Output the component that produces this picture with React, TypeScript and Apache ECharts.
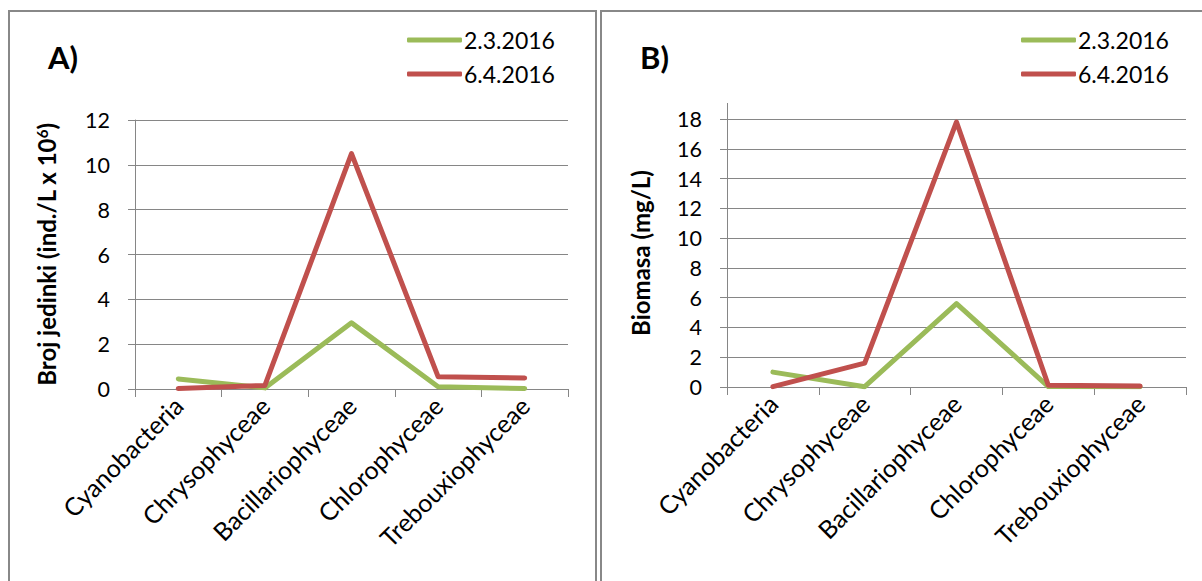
import React, { useEffect, useRef } from "react";
import * as echarts from "echarts";

const categories = ["Cyanobacteria", "Chrysophyceae", "Bacillariophyceae", "Chlorophyceae", "Trebouxiophyceae"];
const seriesNames = ["2.3.2016", "6.4.2016"];
const countMar = [0.45, 0.05, 2.95, 0.1, 0.02];
const countApr = [0.02, 0.16, 10.5, 0.55, 0.49];
const biomassMar = [1.0, 0.02, 5.6, 0.03, 0.02];
const biomassApr = [0.02, 1.6, 17.8, 0.12, 0.06];
const countTicks = { min: 0, max: 12, interval: 2 };
const biomassTicks = { min: 0, max: 18, interval: 2 };

const GREEN = "#9BBB59";
const RED = "#C0504D";
const AXIS = "#868686";
const FONT = "Lato, 'Open Sans', sans-serif";

export default function App() {
  const ref = useRef<HTMLDivElement>(null);
  useEffect(() => {
    if (!ref.current) return;
    const chart = echarts.init(ref.current, undefined, { renderer: "svg" });

    const xAxisCommon = (gridIndex: number) => ({
      type: "category",
      gridIndex,
      data: categories,
      boundaryGap: true,
      axisLine: { show: true, lineStyle: { color: AXIS, width: 1 } },
      axisTick: { show: true, length: 8, lineStyle: { color: AXIS } },
      axisLabel: { rotate: 45, fontSize: 25, color: "#000", margin: 12, fontFamily: FONT, interval: 0 },
      splitLine: { show: false },
    });
    const yAxisCommon = (gridIndex: number, t: any, name: string, nameGap: number) => ({
      type: "value",
      gridIndex,
      min: t.min,
      max: t.max,
      interval: t.interval,
      name,
      nameLocation: "middle",
      nameGap,
      nameTextStyle: {
        fontSize: 24,
        fontWeight: "bold",
        color: "#000",
        fontFamily: FONT,
        rich: {
          n: { fontSize: 24, fontWeight: "bold", color: "#000", fontFamily: FONT },
          s: { fontSize: 15, fontWeight: "bold", color: "#000", fontFamily: FONT, verticalAlign: "top", padding: [0, 0, 10, 0] },
        },
      },
      axisLine: { show: true, lineStyle: { color: AXIS, width: 1 } },
      axisTick: { show: true, length: 7, lineStyle: { color: AXIS } },
      axisLabel: { fontSize: 21.5, color: "#000", margin: 25, fontFamily: FONT },
      splitLine: { show: true, lineStyle: { color: AXIS, width: 1 } },
    });
    const line = (name: string, data: number[], color: string, idx: number) => ({
      type: "line",
      name,
      data,
      xAxisIndex: idx,
      yAxisIndex: idx,
      symbol: "none",
      showSymbol: false,
      lineStyle: { color, width: 5, cap: "round", join: "round" },
      itemStyle: { color },
      z: name === seriesNames[1] ? 3 : 2,
    });
    const legend = (left: number) => ({
      orient: "vertical",
      left,
      top: 21,
      icon: "roundRect",
      itemWidth: 55,
      itemHeight: 5,
      itemGap: 6,
      data: seriesNames,
      textStyle: { fontSize: 23, color: "#000", fontFamily: FONT, lineHeight: 28, padding: [0, 0, 0, -3] },
    });
    const border = (x1: number, y1: number, x2: number, y2: number) => ({
      type: "line",
      shape: { x1, y1, x2, y2 },
      style: { stroke: "#888888", lineWidth: 2 },
      silent: true,
    });

    chart.setOption({
      animation: false,
      backgroundColor: "#ffffff",
      textStyle: { fontFamily: FONT },
      grid: [
        { left: 135, top: 120, width: 433, height: 269, containLabel: false },
        { left: 727, top: 119, width: 459, height: 268, containLabel: false },
      ],
      legend: [legend(402), legend(1016)],
      xAxis: [xAxisCommon(0), xAxisCommon(1)],
      yAxis: [
        yAxisCommon(0, countTicks, "{n|Broj jedinki (ind./L x 10}{s|6}{n|)}", 76),
        yAxisCommon(1, biomassTicks, "Biomasa (mg/L)", 75),
      ],
      series: [
        line(seriesNames[0], countMar, GREEN, 0),
        line(seriesNames[1], countApr, RED, 0),
        line(seriesNames[0], biomassMar, GREEN, 1),
        line(seriesNames[1], biomassApr, RED, 1),
      ],
      graphic: [
        border(9, 10, 9, 581),
        border(8, 11, 597, 11),
        border(596, 10, 596, 581),
        border(601, 10, 601, 581),
        border(600, 11, 1202, 11),
        {
          type: "line",
          shape: { x1: 727.5, y1: 103, x2: 727.5, y2: 119 },
          style: { stroke: AXIS, lineWidth: 1 },
          silent: true,
        },
        {
          type: "text",
          left: 48,
          top: 41,
          style: { text: "A)", fontSize: 31, fontWeight: "bold", fill: "#000", fontFamily: FONT },
        },
        {
          type: "text",
          left: 640,
          top: 41,
          style: { text: "B)", fontSize: 31, fontWeight: "bold", fill: "#000", fontFamily: FONT },
        },
      ],
    });
    return () => chart.dispose();
  }, []);
  return (
    <div
      ref={ref}
      style={{ position: "absolute", left: 0, top: 0, width: 1202, height: 581 }}
    />
  );
}
